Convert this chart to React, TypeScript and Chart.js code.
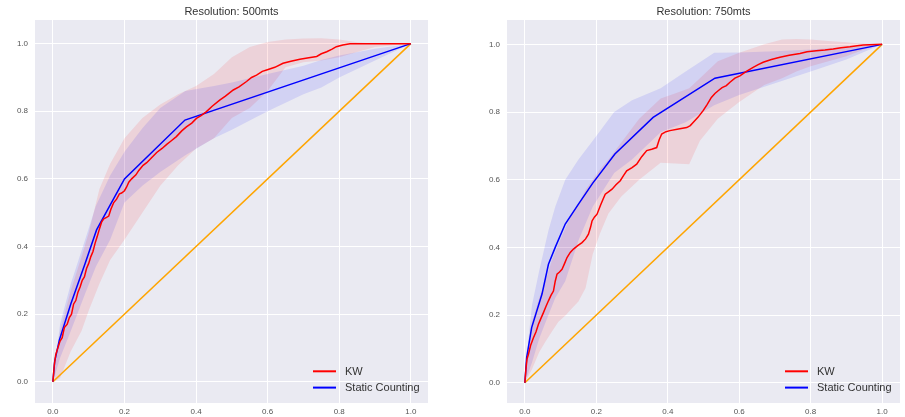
import React, { useEffect, useRef } from "react";
import { Chart, registerables } from "chart.js";

Chart.register(...registerables);

// ---------- shared labels ----------
const tickValues = [0, 0.2, 0.4, 0.6, 0.8, 1.0];
const tickLabels = ["0.0", "0.2", "0.4", "0.6", "0.8", "1.0"];
const titles = ["Resolution: 500mts", "Resolution: 750mts"];
const seriesNames = ["KW", "Static Counting"];
const diagX = [0, 1];
const diagY = [0, 1];

// ---------- Resolution 500mts ----------
const kw500X = [0, 0.004, 0.008, 0.012, 0.02, 0.026, 0.032, 0.04, 0.046, 0.052, 0.058, 0.064, 0.07, 0.076, 0.082, 0.088, 0.094, 0.1, 0.106, 0.112, 0.118, 0.124, 0.13, 0.136, 0.142, 0.15, 0.156, 0.162, 0.17, 0.178, 0.186, 0.192, 0.2, 0.206, 0.212, 0.22, 0.232, 0.24, 0.252, 0.262, 0.275, 0.29, 0.305, 0.318, 0.33, 0.345, 0.36, 0.373, 0.388, 0.401, 0.415, 0.429, 0.445, 0.466, 0.482, 0.504, 0.52, 0.541, 0.555, 0.569, 0.585, 0.597, 0.62, 0.643, 0.665, 0.69, 0.715, 0.737, 0.75, 0.765, 0.78, 0.792, 0.81, 0.83, 1.0];
const kw500Y = [0, 0.05, 0.08, 0.094, 0.12, 0.13, 0.16, 0.17, 0.19, 0.2, 0.23, 0.24, 0.265, 0.28, 0.3, 0.31, 0.335, 0.35, 0.37, 0.385, 0.41, 0.43, 0.452, 0.472, 0.482, 0.486, 0.49, 0.51, 0.53, 0.54, 0.556, 0.558, 0.565, 0.576, 0.59, 0.6, 0.612, 0.625, 0.64, 0.648, 0.662, 0.678, 0.69, 0.702, 0.712, 0.725, 0.742, 0.754, 0.765, 0.779, 0.788, 0.799, 0.815, 0.833, 0.845, 0.863, 0.872, 0.888, 0.9, 0.907, 0.918, 0.922, 0.93, 0.942, 0.948, 0.954, 0.958, 0.962, 0.97, 0.976, 0.984, 0.991, 0.996, 1.0, 1.0];
const kwBand500X = [0, 0.02, 0.05, 0.08, 0.1, 0.13, 0.16, 0.2, 0.25, 0.3, 0.35, 0.4, 0.45, 0.5, 0.55, 0.6, 0.65, 0.7, 0.75, 0.8, 0.85, 0.9, 1.0];
const kwBand500High = [0, 0.15, 0.27, 0.37, 0.44, 0.57, 0.645, 0.72, 0.78, 0.82, 0.85, 0.875, 0.91, 0.96, 0.99, 1.005, 1.012, 1.015, 1.016, 1.012, 1.004, 1.0, 1.0];
const kwBand500Low = [0, 0.01, 0.09, 0.15, 0.21, 0.29, 0.36, 0.42, 0.5, 0.58, 0.64, 0.69, 0.72, 0.78, 0.81, 0.86, 0.93, 0.945, 0.95, 0.96, 0.975, 0.99, 1.0];
const sc500X = [0, 0.005, 0.018, 0.05, 0.09, 0.122, 0.2, 0.369, 1.0];
const sc500Y = [0, 0.06, 0.123, 0.23, 0.35, 0.449, 0.6, 0.774, 1.0];
const scBand500X = [0, 0.02, 0.05, 0.09, 0.12, 0.16, 0.2, 0.25, 0.3, 0.37, 0.45, 0.5, 0.6, 0.7, 0.75, 0.8, 0.9, 1.0];
const scBand500High = [0, 0.17, 0.29, 0.42, 0.52, 0.61, 0.68, 0.75, 0.81, 0.86, 0.875, 0.885, 0.91, 0.935, 0.952, 0.965, 0.985, 1.0];
const scBand500Low = [0, 0.07, 0.15, 0.26, 0.34, 0.42, 0.53, 0.58, 0.62, 0.67, 0.72, 0.745, 0.8, 0.85, 0.87, 0.9, 0.95, 1.0];

// ---------- Resolution 750mts ----------
const kw750X = [0, 0.003, 0.006, 0.01, 0.016, 0.024, 0.031, 0.038, 0.045, 0.052, 0.059, 0.066, 0.073, 0.08, 0.085, 0.09, 0.097, 0.104, 0.111, 0.118, 0.127, 0.136, 0.148, 0.16, 0.17, 0.178, 0.184, 0.188, 0.195, 0.202, 0.212, 0.22, 0.225, 0.235, 0.244, 0.255, 0.267, 0.276, 0.285, 0.3, 0.313, 0.327, 0.341, 0.355, 0.369, 0.376, 0.383, 0.395, 0.406, 0.43, 0.453, 0.463, 0.471, 0.485, 0.499, 0.51, 0.522, 0.532, 0.541, 0.552, 0.564, 0.574, 0.588, 0.602, 0.62, 0.639, 0.653, 0.667, 0.69, 0.714, 0.74, 0.77, 0.79, 0.816, 0.84, 0.863, 0.885, 0.91, 0.93, 0.947, 1.0];
const kw750Y = [0, 0.04, 0.07, 0.084, 0.11, 0.133, 0.15, 0.173, 0.19, 0.207, 0.225, 0.242, 0.258, 0.271, 0.3, 0.321, 0.327, 0.335, 0.352, 0.37, 0.385, 0.395, 0.405, 0.414, 0.425, 0.439, 0.46, 0.478, 0.49, 0.498, 0.525, 0.545, 0.557, 0.565, 0.572, 0.585, 0.597, 0.612, 0.626, 0.636, 0.646, 0.668, 0.686, 0.69, 0.695, 0.718, 0.735, 0.742, 0.745, 0.75, 0.754, 0.76, 0.769, 0.785, 0.804, 0.822, 0.843, 0.855, 0.863, 0.872, 0.878, 0.888, 0.9, 0.907, 0.92, 0.932, 0.94, 0.947, 0.955, 0.962, 0.968, 0.973, 0.978, 0.981, 0.983, 0.986, 0.99, 0.993, 0.996, 0.998, 1.0];
const kwBand750X = [0, 0.01, 0.02, 0.04, 0.057, 0.075, 0.094, 0.115, 0.132, 0.15, 0.17, 0.19, 0.21, 0.234, 0.27, 0.32, 0.38, 0.42, 0.46, 0.49, 0.54, 0.6, 0.67, 0.72, 0.76, 0.8, 0.85, 0.9, 0.95, 1.0];
const kwBand750High = [0, 0.12, 0.18, 0.25, 0.3, 0.36, 0.41, 0.46, 0.5, 0.53, 0.57, 0.6, 0.63, 0.66, 0.71, 0.78, 0.84, 0.855, 0.87, 0.9, 0.95, 0.975, 1.0, 1.014, 1.016, 1.014, 1.01, 1.006, 1.002, 1.0];
const kwBand750Low = [0, 0.02, 0.04, 0.09, 0.12, 0.15, 0.18, 0.2, 0.22, 0.24, 0.28, 0.38, 0.44, 0.5, 0.55, 0.6, 0.65, 0.648, 0.646, 0.715, 0.78, 0.83, 0.88, 0.9, 0.92, 0.935, 0.95, 0.965, 0.985, 1.0];
const sc750X = [0, 0.005, 0.019, 0.048, 0.066, 0.085, 0.113, 0.15, 0.19, 0.252, 0.359, 0.532, 1.0];
const sc750Y = [0, 0.074, 0.163, 0.262, 0.35, 0.4, 0.469, 0.528, 0.59, 0.676, 0.784, 0.9, 1.0];
const scBand750X = [0, 0.01, 0.02, 0.04, 0.066, 0.085, 0.113, 0.15, 0.19, 0.25, 0.3, 0.38, 0.45, 0.53, 0.6, 0.7, 0.8, 0.9, 1.0];
const scBand750High = [0, 0.13, 0.23, 0.33, 0.45, 0.52, 0.6, 0.66, 0.715, 0.8, 0.835, 0.87, 0.92, 0.975, 0.976, 0.98, 0.985, 0.992, 1.0];
const scBand750Low = [0, 0.03, 0.06, 0.13, 0.2, 0.25, 0.3, 0.42, 0.52, 0.62, 0.66, 0.74, 0.77, 0.82, 0.85, 0.885, 0.92, 0.955, 1.0];

const pts = (xs: number[], ys: number[]) => xs.map((x, i) => ({ x, y: ys[i] }));

const bgPlugin = {
  id: "bgArea",
  beforeDraw(chart: any) {
    const { ctx, chartArea } = chart;
    ctx.save();
    ctx.fillStyle = "#EAEAF2";
    ctx.fillRect(chartArea.left, chartArea.top, chartArea.right - chartArea.left, chartArea.bottom - chartArea.top);
    ctx.restore();
  },
};

const legendPlugin = {
  id: "insideLegend",
  afterDraw(chart: any) {
    const { ctx, chartArea } = chart;
    const items = chart.data.datasets
      .filter((d: any) => d.legendRank !== undefined)
      .sort((a: any, b: any) => a.legendRank - b.legendRank);
    ctx.save();
    items.forEach((d: any, i: number) => {
      const y = chartArea.bottom - 31.7 + i * 16.3;
      ctx.strokeStyle = d.borderColor;
      ctx.lineWidth = 2;
      ctx.beginPath();
      ctx.moveTo(chartArea.right - 115, y);
      ctx.lineTo(chartArea.right - 92, y);
      ctx.stroke();
      ctx.fillStyle = "#333333";
      ctx.font = '11px "Liberation Sans", Arial, sans-serif';
      ctx.textBaseline = "middle";
      ctx.textAlign = "left";
      ctx.fillText(d.label, chartArea.right - 83, y + 0.5);
    });
    ctx.restore();
  },
};

type Panel = {
  title: string;
  kwX: number[]; kwY: number[];
  kwBX: number[]; kwLow: number[]; kwHigh: number[];
  scX: number[]; scY: number[];
  scBX: number[]; scLow: number[]; scHigh: number[];
  xMin: number; xMax: number; yMin: number; yMax: number;
  axisWidth: number; padRight: number;
};

const panels: Panel[] = [
  {
    title: titles[0],
    kwX: kw500X, kwY: kw500Y, kwBX: kwBand500X, kwLow: kwBand500Low, kwHigh: kwBand500High,
    scX: sc500X, scY: sc500Y, scBX: scBand500X, scLow: scBand500Low, scHigh: scBand500High,
    xMin: -0.05, xMax: 1.048, yMin: -0.063, yMax: 1.07, axisWidth: 35, padRight: 24,
  },
  {
    title: titles[1],
    kwX: kw750X, kwY: kw750Y, kwBX: kwBand750X, kwLow: kwBand750Low, kwHigh: kwBand750High,
    scX: sc750X, scY: sc750Y, scBX: scBand750X, scLow: scBand750Low, scHigh: scBand750High,
    xMin: -0.05, xMax: 1.05, yMin: -0.06, yMax: 1.072, axisWidth: 55, padRight: 5,
  },
];

const tickFont = { family: '"Liberation Sans", Arial, sans-serif', size: 8 };

function makeConfig(p: Panel): any {
  const band = (data: any[], extra: any) => ({
    data, borderWidth: 0, pointRadius: 0, tension: 0, ...extra,
  });
  return {
    type: "line",
    data: {
      datasets: [
        band(pts(p.kwBX, p.kwLow), { label: "kwLow", fill: false, order: 10, borderColor: "rgba(0,0,0,0)" }),
        band(pts(p.kwBX, p.kwHigh), { label: "kwHigh", fill: "-1", order: 9, borderColor: "rgba(0,0,0,0)", backgroundColor: "rgba(255,0,0,0.1)" }),
        band(pts(p.scBX, p.scLow), { label: "scLow", fill: false, order: 8, borderColor: "rgba(0,0,0,0)" }),
        band(pts(p.scBX, p.scHigh), { label: "scHigh", fill: "-1", order: 7, borderColor: "rgba(0,0,0,0)", backgroundColor: "rgba(0,0,255,0.1)" }),
        { label: "diag", data: pts(diagX, diagY), borderColor: "#FFA500", borderWidth: 1.5, pointRadius: 0, fill: false, order: 3 },
        { label: seriesNames[1], legendRank: 1, data: pts(p.scX, p.scY), borderColor: "#0000FF", borderWidth: 1.5, pointRadius: 0, fill: false, tension: 0, order: 2 },
        { label: seriesNames[0], legendRank: 0, data: pts(p.kwX, p.kwY), borderColor: "#FF0000", borderWidth: 1.5, pointRadius: 0, fill: false, tension: 0, order: 1 },
      ],
    },
    options: {
      responsive: false,
      animation: false,
      events: [],
      layout: { padding: { left: 0, right: p.padRight, top: 0, bottom: 0 } },
      plugins: {
        legend: { display: false },
        tooltip: { enabled: false },
        title: {
          display: true,
          fullSize: false,
          text: p.title,
          color: "#333333",
          font: { family: '"Liberation Sans", Arial, sans-serif', size: 11, weight: "normal", lineHeight: 1.2 },
          padding: { top: 5.4, bottom: 1.4 },
        },
      },
      scales: {
        x: {
          type: "linear",
          min: p.xMin,
          max: p.xMax,
          border: { display: false },
          grid: { color: "#FFFFFF", lineWidth: 1, drawTicks: false },
          ticks: {
            font: tickFont,
            color: "#555555",
            padding: 4,
            maxRotation: 0,
            callback: (v: number) => tickLabels[tickValues.indexOf(v)],
          },
          afterBuildTicks: (s: any) => { s.ticks = tickValues.map((v) => ({ value: v })); },
          afterFit: (s: any) => { s.height = 14; },
        },
        y: {
          type: "linear",
          min: p.yMin,
          max: p.yMax,
          border: { display: false },
          grid: { color: "#FFFFFF", lineWidth: 1, drawTicks: false },
          ticks: {
            font: tickFont,
            color: "#555555",
            padding: 7,
            callback: (v: number) => tickLabels[tickValues.indexOf(v)],
          },
          afterBuildTicks: (s: any) => { s.ticks = tickValues.map((v) => ({ value: v })); },
          afterFit: (s: any) => { s.width = p.axisWidth; },
        },
      },
    },
    plugins: [bgPlugin, legendPlugin],
  };
}

function PanelChart({ panel, left, width }: { panel: Panel; left: number; width: number }) {
  const ref = useRef<HTMLCanvasElement | null>(null);
  useEffect(() => {
    if (!ref.current) return;
    const chart = new Chart(ref.current, makeConfig(panel));
    return () => chart.destroy();
  }, [panel]);
  return (
    <canvas
      ref={ref}
      width={width}
      height={417}
      style={{ position: "absolute", left, top: 0, width, height: 417, display: "block" }}
    />
  );
}

export default function App() {
  return (
    <div style={{ position: "fixed", left: 0, top: 0, width: 905, height: 417, background: "#FFFFFF", overflow: "hidden" }}>
      <PanelChart panel={panels[0]} left={0} width={452} />
      <PanelChart panel={panels[1]} left={452} width={453} />
    </div>
  );
}
